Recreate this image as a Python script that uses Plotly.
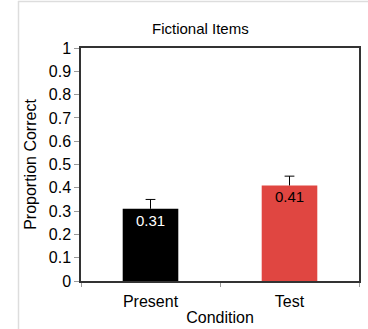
import plotly.graph_objects as go

categories = ["Present", "Test"]
values = [0.31, 0.41]
errors = [0.04, 0.04]
labels = ["0.31", "0.41"]
bar_colors = ["#000000", "#E04641"]
text_colors = ["#ffffff", "#000000"]
y_ticks = [0, 0.1, 0.2, 0.3, 0.4, 0.5, 0.6, 0.7, 0.8, 0.9, 1]
y_tick_text = ["0", "0.1", "0.2", "0.3", "0.4", "0.5", "0.6", "0.7", "0.8", "0.9", "1"]

W, H = 368, 329
L, R, T, B = 81, 9, 48, 48
FONT = "Liberation Sans, Arial, Helvetica"

fig = go.Figure()
fig.add_trace(go.Bar(
    x=categories, y=values, width=0.4,
    marker=dict(color=bar_colors, line=dict(width=0)),
    text=labels, textposition="inside", insidetextanchor="end",
    insidetextfont=dict(color=text_colors, size=15, family=FONT),
    textangle=0, cliponaxis=False, constraintext="none",
))
# upward-only error bars: stem from bar top, cap drawn as marker
tops = [v + e for v, e in zip(values, errors)]
fig.add_trace(go.Scatter(
    x=categories, y=tops, mode="markers",
    marker=dict(symbol="line-ew-open", size=7, color="#000000",
                line=dict(color="#000000", width=1)),
    error_y=dict(type="data", symmetric=False, array=[0, 0], arrayminus=errors,
                 color="#000000", thickness=1, width=0),
    hoverinfo="skip",
))

fig.update_layout(
    width=W, height=H,
    margin=dict(l=L, r=R, t=T, b=B),
    paper_bgcolor="white", plot_bgcolor="white",
    showlegend=False,
    font=dict(family=FONT, size=16, color="#000000"),
    xaxis=dict(
        range=[-0.5, 1.5], showline=True, linecolor="#333333", linewidth=1.5,
        mirror=True, ticks="outside", tickson="boundaries", ticklen=4,
        tickcolor="#999999", tickfont=dict(size=16), showgrid=False,
        automargin=False, ticklabelstandoff=5,
        title=dict(text="Condition", font=dict(size=16), standoff=3),
    ),
    yaxis=dict(
        range=[0, 1], tickvals=y_ticks, ticktext=y_tick_text,
        showline=True, linecolor="#333333", linewidth=1.5, mirror=True,
        ticks="outside", ticklen=5, tickcolor="#999999",
        tickfont=dict(size=16), showgrid=False, zeroline=False,
        automargin=False,
        title=dict(text="Proportion Correct", font=dict(size=16), standoff=8),
    ),
    annotations=[dict(
        text="Fictional Items", xref="paper", yref="paper",
        x=(200 - L) / (W - L - R), y=(H - B - 29) / (H - T - B),
        xanchor="center", yanchor="middle", showarrow=False,
        font=dict(size=15),
    )],
    shapes=[
        dict(type="line", xref="paper", yref="paper", layer="above",
             x0=(18.5 - L) / (W - L - R), x1=(18.5 - L) / (W - L - R),
             y0=(H - B - 1) / (H - T - B), y1=(H - B - 329) / (H - T - B),
             line=dict(color="#dddddd", width=1.5)),
        dict(type="line", xref="paper", yref="paper", layer="above",
             x0=(18 - L) / (W - L - R), x1=(368 - L) / (W - L - R),
             y0=(H - B - 1.5) / (H - T - B), y1=(H - B - 1.5) / (H - T - B),
             line=dict(color="#dddddd", width=1.5)),
    ],
)

fig.write_html("out.html", config={"displayModeBar": False},
               post_script="document.body.style.margin='0';")
